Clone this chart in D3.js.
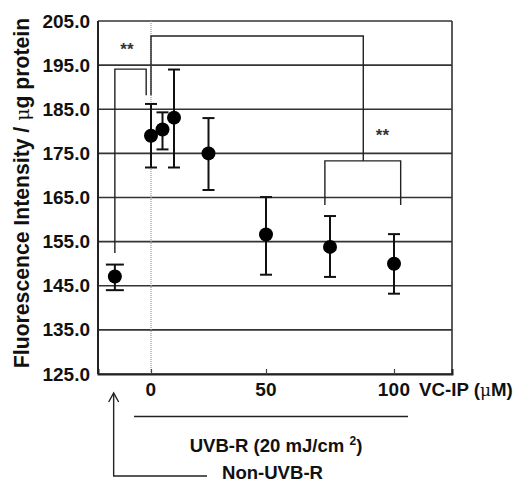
<!DOCTYPE html>
<html>
<head>
<meta charset="utf-8">
<script src="https://cdn.jsdelivr.net/npm/d3@7"></script>
<style>
  body { margin: 0; background: #fff; }
  text { font-family: "Liberation Sans", Arial, sans-serif; fill: #111; }
  .bold { font-weight: bold; }
</style>
</head>
<body>
<div id="chart"></div>
<script>
var width = 517, height = 483;
var margin = {left: 98, top: 21, right: 65, bottom: 109};

// DATA
var conc   = [-15, 0, 5, 10, 25, 50, 75, 100];          // first = Non-UVB-R control
var means  = [147.1, 179.0, 180.4, 183.1, 175.0, 156.6, 153.8, 150.0];
var errUp  = [149.8, 186.2, 184.3, 194.0, 183.0, 165.1, 160.8, 156.7];
var errLo  = [144.0, 171.8, 175.9, 171.8, 166.7, 147.5, 147.0, 143.2];
var yTicks = [125, 135, 145, 155, 165, 175, 185, 195, 205];
var xTicks = [0, 50, 100];

// significance brackets: [x1, x2, yTop, yLeftEnd, yRightEnd]
var brackets = [
  [-15, -2, 194.1, 152.4, 188.2],
  [0, 88, 201.6, 188.2, 173.3],
  [73, 102.6, 173.3, 163.3, 163.3]
];
var stars = [[-10, 197.2], [95.5, 177.8]];

// scale a text's font so its length matches the given width
function fit(sel, target) {
  var len = sel.node().getComputedTextLength();
  var fs = parseFloat(sel.style("font-size"));
  sel.style("font-size", (fs * target / len) + "px");
}

var svg = d3.select("#chart").append("svg")
    .attr("width", width)
    .attr("height", height);

var x = d3.scaleLinear()
    .domain([-22, 0, 50, 100, 122.6])
    .range([margin.left, 151, 266, 394, width - margin.right]);

var y = d3.scaleLinear()
    .domain([125, 205])
    .range([height - margin.bottom, margin.top]);

// GRID
svg.append("g").selectAll("line")
  .data(yTicks)
  .enter().append("line")
    .attr("x1", x(-22)).attr("x2", x(122.6))
    .attr("y1", function(d) { return y(d); })
    .attr("y2", function(d) { return y(d); })
    .attr("stroke", "#333").attr("stroke-width", 1.6);

// frame
svg.append("line")
    .attr("x1", x(-22)).attr("x2", x(-22))
    .attr("y1", y(125)).attr("y2", y(205))
    .attr("stroke", "#222").attr("stroke-width", 2);
svg.append("line")
    .attr("x1", x(122.6)).attr("x2", x(122.6))
    .attr("y1", y(125)).attr("y2", y(205))
    .attr("stroke", "#333").attr("stroke-width", 1.6);

// dotted line at 0
svg.append("line")
    .attr("x1", x(0)).attr("x2", x(0))
    .attr("y1", y(205)).attr("y2", y(125))
    .attr("stroke", "#999").attr("stroke-width", 1.2)
    .attr("stroke-dasharray", "1,1");

// Y labels
svg.append("g").selectAll("text")
  .data(yTicks)
  .enter().append("text")
    .attr("class", "bold")
    .attr("x", margin.left - 8)
    .attr("y", function(d) { return y(d) + 6.5; })
    .attr("text-anchor", "end")
    .style("font-size", "19px")
    .text(function(d) { return d.toFixed(1); });

// X axis ticks (inward)
var xAxis = d3.axisBottom(x).tickValues(xTicks).tickSize(-5).tickFormat("");
var gx = svg.append("g")
    .attr("transform", "translate(0," + y(125) + ")")
    .call(xAxis);
gx.select(".domain").attr("stroke", "#222").attr("stroke-width", 2);
gx.selectAll(".tick line").attr("stroke", "#444").attr("stroke-width", 1.2);

svg.append("g").selectAll("text")
  .data(xTicks)
  .enter().append("text")
    .attr("class", "bold")
    .attr("x", function(d) { return x(d); })
    .attr("y", 396)
    .attr("text-anchor", "middle")
    .style("font-size", "19px")
    .style("letter-spacing", "0.3px")
    .text(function(d) { return d; });

var vc = svg.append("text")
    .attr("class", "bold")
    .attr("x", 419).attr("y", 396)
    .style("font-size", "18.5px");
vc.append("tspan").text("VC-IP (");
vc.append("tspan").style("font-weight", "normal").style("font-family", "DejaVu Serif, serif").style("font-size", "17px").text("μ");
vc.append("tspan").text("M)");
fit(vc, 94);

// Y title
var yt = svg.append("text")
    .attr("class", "bold")
    .attr("transform", "translate(29,193) rotate(-90)")
    .attr("text-anchor", "middle")
    .style("font-size", "19px");
yt.append("tspan").text("Fluorescence Intensity / ");
yt.append("tspan").style("font-weight", "normal").style("font-family", "DejaVu Serif, serif").style("font-size", "19px").text("μ");
yt.append("tspan").text("g protein");
fit(yt, 352);

// UVB-R annotation
svg.append("line")
    .attr("x1", 134).attr("x2", 408)
    .attr("y1", 416.5).attr("y2", 416.5)
    .attr("stroke", "#222").attr("stroke-width", 1.4);
var uv = svg.append("text")
    .attr("class", "bold")
    .attr("x", 276).attr("y", 452)
    .attr("text-anchor", "middle")
    .style("font-size", "18px");
uv.append("tspan").text("UVB-R (20 mJ/cm ");
uv.append("tspan").attr("dy", -7).style("font-size", "12px").text("2");
uv.append("tspan").attr("dy", 7).text(")");
fit(uv, 173);

// Non-UVB-R arrow
var ax = x(-15.5);
svg.append("path")
    .attr("d", "M" + ax + ",394 V476 H207")
    .attr("fill", "none").attr("stroke", "#222").attr("stroke-width", 1.4);
svg.append("path")
    .attr("d", "M" + (ax - 5) + ",402 L" + ax + ",393 L" + (ax + 5) + ",402")
    .attr("fill", "none").attr("stroke", "#222").attr("stroke-width", 1.4);
var nu = svg.append("text")
    .attr("class", "bold")
    .attr("x", 222).attr("y", 479)
    .style("font-size", "18px")
    .text("Non-UVB-R");
fit(nu, 101);

// BRACKETS
svg.append("g").selectAll("path")
  .data(brackets)
  .enter().append("path")
    .attr("d", function(d) {
      return "M" + x(d[0]) + "," + y(d[3]) + " V" + y(d[2]) +
             " H" + x(d[1]) + " V" + y(d[4]);
    })
    .attr("fill", "none").attr("stroke", "#222").attr("stroke-width", 1.4);
svg.append("g").selectAll("text")
  .data(stars)
  .enter().append("text")
    .attr("class", "bold")
    .attr("x", function(d) { return x(d[0]); })
    .attr("y", function(d) { return y(d[1]); })
    .attr("text-anchor", "middle")
    .style("font-size", "17px")
    .style("fill", "#333")
    .text("**");

// ERROR BARS
var pts = conc.map(function(c, i) { return {c: c, m: means[i], hi: errUp[i], lo: errLo[i], i: i}; });
var eb = svg.append("g").selectAll("g")
  .data(pts)
  .enter().append("g");
eb.append("line")
    .attr("x1", function(d) { return x(d.c); }).attr("x2", function(d) { return x(d.c); })
    .attr("y1", function(d) { return y(d.hi); }).attr("y2", function(d) { return y(d.lo); })
    .attr("stroke", "#111").attr("stroke-width", 2);
eb.selectAll("line.cap")
  .data(function(d) { return [{d: d, v: d.hi}, {d: d, v: d.lo}]; })
  .enter().append("line")
    .attr("class", "cap")
    .attr("x1", function(e) { return x(e.d.c) - (e.d.i === 0 ? 9 : 6); })
    .attr("x2", function(e) { return x(e.d.c) + (e.d.i === 0 ? 9 : 6); })
    .attr("y1", function(e) { return y(e.v); })
    .attr("y2", function(e) { return y(e.v); })
    .attr("stroke", "#111").attr("stroke-width", 2);

svg.append("g").selectAll("circle")
  .data(pts)
  .enter().append("circle")
    .attr("cx", function(d) { return x(d.c); })
    .attr("cy", function(d) { return y(d.m); })
    .attr("r", 7)
    .attr("fill", "#000");
</script>
</body>
</html>
